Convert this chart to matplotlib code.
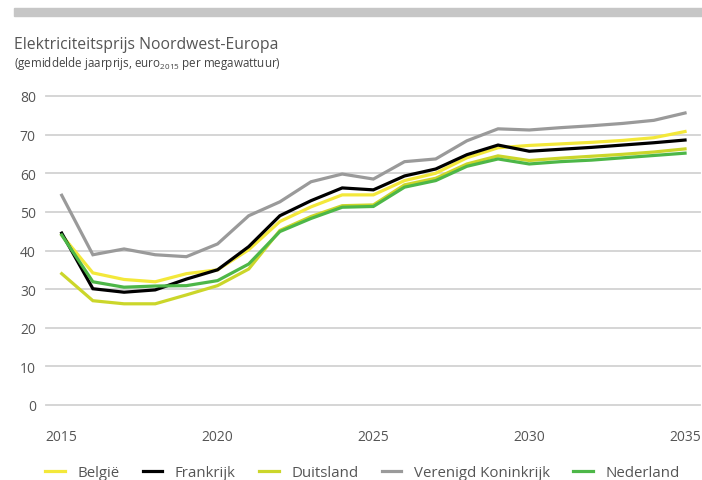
import matplotlib
matplotlib.use('Agg')
import matplotlib.pyplot as plt
from matplotlib.patches import Rectangle

plt.rcParams['font.family'] = ['Open Sans', 'DejaVu Sans']

# Data (euro2015 per MWh)
jaren = list(range(2015, 2036))
belgie = [44.0, 34.2, 32.5, 31.9, 34.0, 35.0, 40.2, 47.5, 51.3, 54.4, 54.4,
          58.1, 60.0, 64.0, 66.6, 67.2, 67.6, 68.0, 68.5, 69.2, 70.8]
frankrijk = [44.5, 30.1, 29.2, 29.8, 32.6, 35.0, 41.0, 49.0, 52.9, 56.2, 55.7,
             59.3, 61.1, 64.8, 67.3, 65.7, 66.2, 66.7, 67.3, 67.9, 68.6]
duitsland = [34.0, 27.0, 26.2, 26.2, 28.5, 30.9, 35.2, 45.2, 48.8, 51.6, 51.8,
             57.0, 58.7, 62.4, 64.5, 63.3, 63.9, 64.4, 64.9, 65.5, 66.3]
vk = [54.3, 38.9, 40.4, 38.9, 38.4, 41.7, 49.0, 52.6, 57.8, 59.8, 58.5,
      63.0, 63.7, 68.4, 71.5, 71.2, 71.8, 72.3, 72.9, 73.7, 75.6]
nederland = [44.0, 31.9, 30.5, 30.8, 30.9, 32.2, 36.5, 44.9, 48.3, 51.2, 51.4,
             56.4, 58.1, 61.8, 63.7, 62.4, 63.0, 63.4, 64.0, 64.6, 65.2]

namen = ['België', 'Frankrijk', 'Duitsland', 'Verenigd Koninkrijk', 'Nederland']
reeksen = [belgie, frankrijk, duitsland, vk, nederland]
kleuren = ['#f3e83a', '#000000', '#cbd62a', '#9a9a9a', '#4db748']

yticks = [0, 10, 20, 30, 40, 50, 60, 70, 80]
xticks = [2015, 2020, 2025, 2030, 2035]

fig = plt.figure(figsize=(7.02, 4.81), dpi=100)
ax = fig.add_axes([45.5 / 702, 75 / 481, (700 - 45.5) / 702, 309 / 481])

# grijze balk bovenaan
fig.patches.append(Rectangle((14 / 702, 1 - 17 / 481), 1, 8 / 481,
                             transform=fig.transFigure, color='#c6c6c6', zorder=0))

fig.text(14 / 702, 1 - 45 / 481, 'Elektriciteitsprijs Noordwest-Europa',
         fontsize=11.3, color='#555555', va='center', ha='left')
fig.text(14 / 702, 1 - 63 / 481,
         r'(gemiddelde jaarprijs, euro$_{\mathregular{2015}}$ per megawattuur)',
         fontsize=8.4, color='#444444', va='center', ha='left')

for y in yticks:
    ax.axhline(y, color='#d2d2d2', lw=1.3, zorder=1, clip_on=False)

for naam, data, kleur in zip(namen, reeksen, kleuren):
    ax.plot(jaren, data, color=kleur, lw=2.3, label=naam, zorder=3,
            solid_joinstyle='miter')

ax.set_xlim(2014.48, 2035.48)
ax.set_ylim(0, 80)
ax.set_yticks(yticks)
ax.set_xticks(xticks)
ax.tick_params(axis='both', length=0, colors='#555555', labelsize=10)
ax.tick_params(axis='y', pad=7)
ax.tick_params(axis='x', pad=17)
for s in ax.spines.values():
    s.set_visible(False)

leg = ax.legend(loc='center left', bbox_to_anchor=(45 / 702, 1 - 474 / 481),
                bbox_transform=fig.transFigure, ncol=5, frameon=False,
                fontsize=10.8, handlelength=1.3, handletextpad=0.85,
                columnspacing=1.55, borderpad=0, borderaxespad=0)
for t in leg.get_texts():
    t.set_color('#555555')

plt.savefig('out.png', dpi=100)
